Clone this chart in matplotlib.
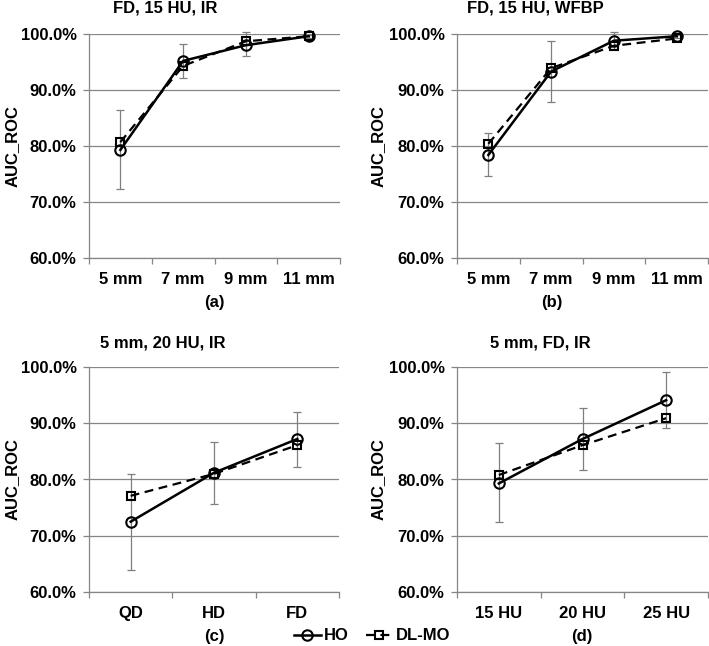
import matplotlib
matplotlib.use("Agg")
import matplotlib.pyplot as plt
from matplotlib.ticker import FuncFormatter

# Categories
SIZES = ["5 mm", "7 mm", "9 mm", "11 mm"]
DOSES = ["QD", "HD", "FD"]
CONTRASTS = ["15 HU", "20 HU", "25 HU"]

# (a) FD, 15 HU, IR  -- AUC in %, HO error bar bounds
A_HO = [79.3, 95.2, 98.0, 99.6]
A_DL = [80.7, 94.3, 98.7, 99.6]
A_LO = [72.4, 92.1, 96.0, 99.3]
A_HI = [86.4, 98.3, 100.3, 99.9]

# (b) FD, 15 HU, WFBP
B_HO = [78.4, 93.3, 98.8, 99.6]
B_DL = [80.4, 93.9, 97.9, 99.2]
B_LO = [74.6, 87.9, 97.4, 99.3]
B_HI = [82.4, 98.8, 100.3, 99.9]

# (c) 5 mm, 20 HU, IR
C_HO = [72.5, 81.2, 87.2]
C_DL = [77.1, 81.0, 86.1]
C_LO = [64.0, 75.7, 82.3]
C_HI = [80.9, 86.7, 92.0]

# (d) 5 mm, FD, IR
D_HO = [79.3, 87.2, 94.1]
D_DL = [80.8, 86.1, 90.9]
D_LO = [72.5, 81.6, 89.2]
D_HI = [86.4, 92.7, 99.1]

W, H = 709, 646
INK = "#000000"
GRID = "#868686"
ERR = "#7f7f7f"

plt.rcParams.update({
    "font.family": ["Liberation Sans", "DejaVu Sans"],
    "font.weight": "bold",
    "font.size": 12,
    "axes.labelweight": "bold",
})


def _rect(l, t, r, b):
    return [l / W, 1 - b / H, (r - l) / W, (b - t) / H]


def _ftext(fig, x, y, s, **kw):
    fig.text(x / W, 1 - y / H, s, ha="center", va="center", fontsize=12,
             fontweight="bold", color=INK, **kw)


def _panel(ax, cats, ho, dl, lo, hi):
    x = list(range(len(cats)))
    yerr = [[h - l for h, l in zip(ho, lo)], [u - h for h, u in zip(ho, hi)]]
    eb = ax.errorbar(x, ho, yerr=yerr, fmt="none", ecolor=ERR, elinewidth=0.9,
                     capsize=3, capthick=0.9, zorder=2)
    for part in eb.get_children():
        part.set_clip_on(False)
    l1, = ax.plot(x, ho, "-", color=INK, lw=1.8, marker="o", ms=7.5, mfc="none",
                  mec=INK, mew=1.5, label="HO", zorder=4, clip_on=False)
    l2, = ax.plot(x, dl, "--", color=INK, lw=1.6, marker="s", ms=5.5, mfc="none",
                  mec=INK, mew=1.5, label="DL-MO", zorder=3, clip_on=False,
                  dashes=(4, 2.5))
    ax.set_ylim(60, 100)
    ax.set_xlim(-0.5, len(cats) - 0.5)
    ax.set_yticks([60, 70, 80, 90, 100])
    ax.yaxis.set_major_formatter(FuncFormatter(lambda v, _: f"{v:.1f}%"))
    ax.set_xticks(x)
    ax.set_xticklabels(cats)
    ax.set_xticks([i - 0.5 for i in range(len(cats) + 1)], minor=True)
    ax.tick_params(axis="x", which="major", length=0, pad=10)
    ax.tick_params(axis="x", which="minor", length=4, color=GRID, width=0.9)
    ax.tick_params(axis="y", length=4, color=GRID, width=0.9, pad=5)
    ax.grid(axis="y", color=GRID, lw=0.9)
    ax.set_axisbelow(True)
    for s in ("top", "right"):
        ax.spines[s].set_visible(False)
    for s in ("left", "bottom"):
        ax.spines[s].set_color(GRID)
        ax.spines[s].set_linewidth(0.9)
    return l1, l2


fig = plt.figure(figsize=(W / 100, H / 100), dpi=100)

specs = [
    # rect (l, t, r, b), cats, data, title (x, y), sublabel (x, y), ylabel (x, y)
    ((89, 34, 340, 258), SIZES, (A_HO, A_DL, A_LO, A_HI), "FD, 15 HU, IR", (165, 8), "(a)", (214, 303), (12, 146)),
    ((457, 34, 708, 258), SIZES, (B_HO, B_DL, B_LO, B_HI), "FD, 15 HU, WFBP", (535, 8), "(b)", (552, 303), (378, 146)),
    ((89, 367, 339, 592), DOSES, (C_HO, C_DL, C_LO, C_HI), "5 mm, 20 HU, IR", (163, 343), "(c)", (214, 637), (12, 479)),
    ((457, 367, 708, 592), CONTRASTS, (D_HO, D_DL, D_LO, D_HI), "5 mm, FD, IR", (540, 343), "(d)", (582, 637), (378, 479)),
]

handles = None
for rect, cats, data, title, tpos, sub, spos, ypos in specs:
    ax = fig.add_axes(_rect(*rect))
    h = _panel(ax, cats, *data)
    if handles is None:
        handles = h
    _ftext(fig, tpos[0], tpos[1], title)
    _ftext(fig, spos[0], spos[1], sub)
    _ftext(fig, ypos[0], ypos[1], "AUC_ROC", rotation=90)

fig.legend(handles, ["HO", "DL-MO"], loc="center", bbox_to_anchor=(372 / W, 1 - 636 / H),
           ncol=2, frameon=False, handlelength=1.6, handletextpad=0.2,
           columnspacing=1.0, fontsize=12, borderpad=0)

fig.savefig("out.png", dpi=100)
